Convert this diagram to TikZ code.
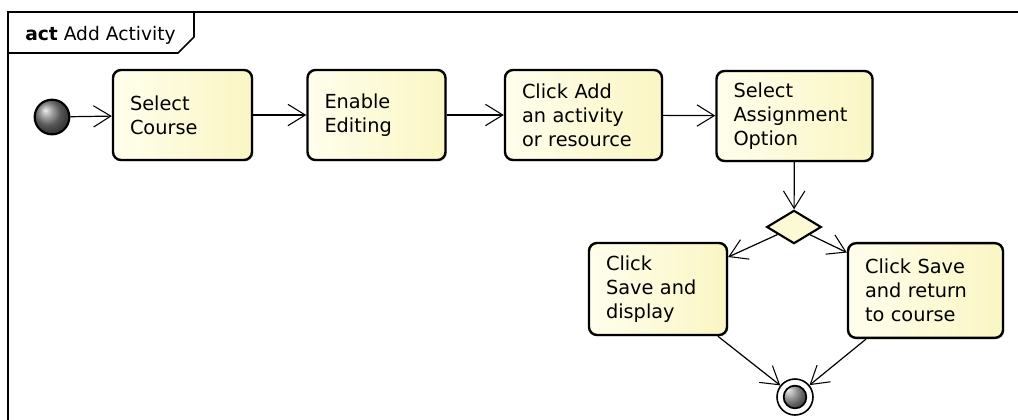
\documentclass[tikz,border=0pt]{standalone}
\usepackage{fontspec}
\setmainfont{DejaVu Sans}
\usepackage{tikz}
\usetikzlibrary{arrows.meta,shapes.geometric,shadows}
\usetikzlibrary{calc}

\definecolor{actlight}{HTML}{FFFEEC}
\definecolor{actdark}{HTML}{FAF6C4}
\definecolor{balldark}{HTML}{7E7E7E}

\tikzset{
	action/.style={draw, rounded corners=6pt, line width=1.8pt,
		left color=actlight, right color=actdark,
		drop shadow={shadow xshift=1pt,shadow yshift=-1pt,opacity=.3},
		inner xsep=12.75pt, minimum height=67.5pt, align=left,
		font=\fontsize{14.5}{18}\selectfont, text width=#1},
	initial/.style={circle, draw, line width=1.6pt, minimum size=26pt, inner sep=0pt,
		ball color=balldark},
	final/.style={circle, draw, line width=1.2pt, minimum size=27pt, inner sep=0pt, fill=white,
		path picture={\shade[ball color=balldark, draw=black, line width=1.3pt]
			(path picture bounding box.center) circle (8.5pt);}},
	decision/.style={diamond, draw, line width=1.6pt, fill=actdark!60!actlight,
		minimum width=41pt, minimum height=25pt, inner sep=0pt, aspect=1.65},
	flow/.style={-{Straight Barb[length=13pt,width=16pt,line width=0.8pt]}, line width=0.9pt}
}

\begin{document}
\begin{tikzpicture}[x=0.75pt,y=-0.75pt]
	\useasboundingbox (0,0) rectangle (1018,419);
	% frame and its tab
	\draw[line width=1.5pt] (8,430) -- (8,12) -- (1030,12);
	\draw[line width=1.2pt] (8,53) -- (178,53) -- (194,37) -- (194,12);
	\node[anchor=west, inner sep=0pt, font=\fontsize{14}{16}\selectfont] (title) at (25,35) {\textbf{act} Add Activity};
	
	\node[initial] (start) at (52,117) {};
	\node[action=78.75pt] (course) at (182.5,115) {Select\\Course};
	\node[action=78pt] (editing) at (376.5,115) {Enable\\Editing};
	\node[action=92.25pt] (addact) at (583.5,115) {Click Add\\an activity\\or resource};
	\node[action=91.5pt] (option) at (794.5,116) {Select\\Assignment\\Option};
	\node[decision] (choice) at (794,227) {};
	\node[action=78pt, minimum height=69pt] (display) at (658,289) {Click\\Save and\\display};
	\node[action=90.75pt, minimum height=71pt] (return) at (925.5,290.5) {Click Save\\and return\\to course};
	\node[final] (stop) at (795,397) {};
	
	\path[flow]
	(start) edge (course)
	(course) edge (editing)
	(editing) edge (addact)
	(addact) edge (option)
	(option) edge (choice)
	(choice) edge (display)
	edge (return)
	(display) edge (stop)
	(return) edge (stop)
	;
\end{tikzpicture}
\end{document}
